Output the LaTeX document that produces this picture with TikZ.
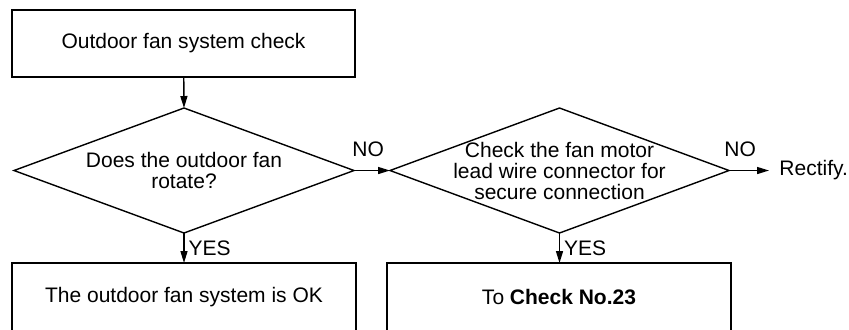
\documentclass[tikz,border=0pt]{standalone}
\usepackage{fontspec}
\setmainfont{Liberation Sans}
\usepackage{tikz}
\usetikzlibrary{positioning,arrows.meta,shapes.geometric}

\tikzset{
  stepbox/.style={draw, line width=0.7pt, rectangle, minimum width=172pt, minimum height=34pt, inner sep=0pt, outer sep=0pt},
  decision/.style={draw, line width=0.7pt, diamond, minimum width=170pt, minimum height=62.5pt, inner sep=0pt, outer sep=0pt},
  qtext/.style={align=center, inner sep=0pt},
  plain/.style={inner sep=5pt},
  flow/.style={line width=0.7pt, -{Triangle[length=6pt,width=3.5pt]}},
  answer/.style={inner sep=0pt, font=\fontsize{10.5}{10.5}\selectfont},
}

\begin{document}
\begin{tikzpicture}[x=0.5pt, y=-0.5pt, font=\fontsize{10.5}{10.5}\selectfont]
  \useasboundingbox (0,0) rectangle (849,329);
  % start box
  \node[stepbox, minimum width=171.5pt, minimum height=33.5pt] (start) at (183.5,43.5) {Outdoor fan system check};
  % decisions
  \node[decision] (q1) at (184,170.5) {};
  \node[qtext] (q1t) at (q1) {Does the outdoor fan\\rotate?};
  \node[decision, minimum width=169.5pt] (q2) at (559.5,170.5) {};
  \node[qtext] (q2t) at (q2) {Check the fan motor\\lead wire connector for\\secure connection};
  % results
  \node[stepbox] (ok) at (184,297) {The outdoor fan system is OK};
  \node[stepbox] (next) at (559,297) {To \textbf{Check No.23}};
  \node[plain, right=20pt of q2.east] (fix) {Rectify.};
  % connectors
  \draw[flow] (start) -- (q1.north);
  \draw[flow] (q1.east) -- (q2.west);
  \draw[flow] (q2.east) -- (fix.west);
  \draw[flow] (q1.south) -- node[answer, right=2pt] {YES} (ok.north -| q1.south);
  \draw[flow] (q2.south) -- node[answer, right=2pt] {YES} (next.north -| q2.south);
  % NO labels
  \node[answer, anchor=south west, xshift=-1pt, yshift=6.5pt] (no1) at (q1.east) {NO};
  \node[answer, anchor=south west, xshift=-2.5pt, yshift=6.5pt] (no2) at (q2.east) {NO};
\end{tikzpicture}
\end{document}
